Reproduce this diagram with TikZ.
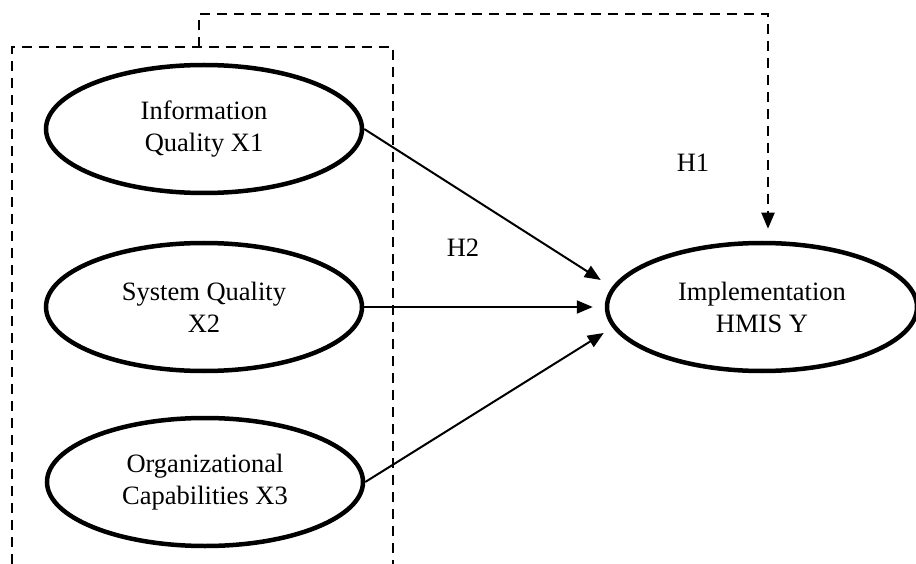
\documentclass[tikz,border=0pt]{standalone}
\usepackage{fontspec}
\setmainfont{Liberation Serif}
\usetikzlibrary{shapes.geometric,arrows.meta}
\tikzset{
  konstrukt/.style={ellipse, draw, line width=4.5pt, minimum width=316pt, minimum height=128pt, inner sep=0pt, align=center},
  pfeil/.style={line width=2pt, -{Triangle[length=16pt,width=13pt]}},
  strich/.style={line width=2pt, dash pattern=on 10pt off 7pt},
}
\begin{document}
\begin{tikzpicture}[x=1pt,y=-1pt,font=\fontsize{26.5}{32}\selectfont]
    \useasboundingbox (0,0) rectangle (916,564);

    % Konstrukte
    \node[konstrukt] (info) at (204,129) {Information\\Quality X1};
    \node[konstrukt] (sys) at (204,307) {System Quality\\X2};
    \node[konstrukt] (org) at (205,482) {Organizational\\Capabilities X3};
    \node[konstrukt, minimum width=310pt] (impl) at (762,307) {Implementation\\HMIS Y};

    % gestrichelter Rahmen (unten offen)
    \draw[strich] (12,564) -- (12,47) -- (393,47) -- (393,564);
    \coordinate (rahmen) at (199,47);
    \coordinate (oben) at (199,14);

    % Pfade
    \draw[pfeil] (info.east) -- ([xshift=-4pt,yshift=27pt]impl.west);
    \draw[pfeil] (sys.east) -- ([xshift=-12pt]impl.west);
    \draw[pfeil] (org.east) -- ([xshift=-1pt,yshift=-26pt]impl.west);
    \draw[strich, pfeil] (rahmen) -- (oben) -| ([xshift=6pt,yshift=12pt]impl.north);

    % Hypothesen
    \node (heins) at (693,163) {H1};
    \node (hzwei) at (463,248) {H2};
\end{tikzpicture}
\end{document}
